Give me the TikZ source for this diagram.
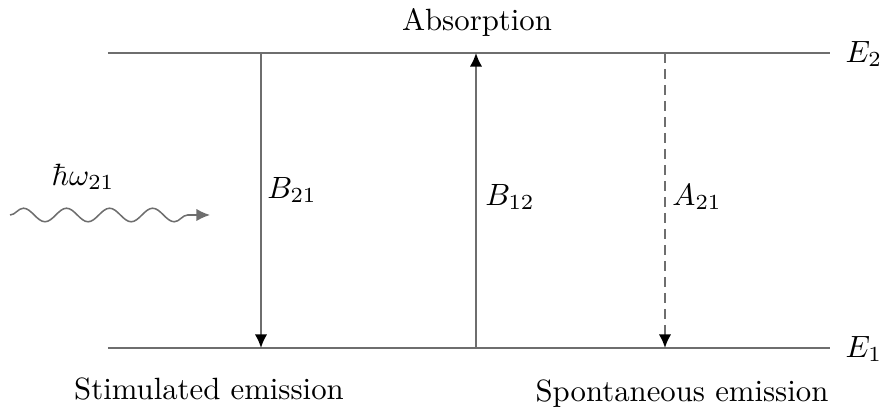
\documentclass[tikz,border=0pt]{standalone}
\usetikzlibrary{arrows.meta,decorations.pathmorphing}
\definecolor{lev}{RGB}{110,110,110}
\begin{document}
\begin{tikzpicture}[x=0.325pt,y=-0.325pt,
  level/.style={draw=lev,line width=0.6pt},
  trans/.style={draw=lev,line width=0.6pt,-{Latex[length=4.4pt,width=4pt,color=black]}},
  lbl/.style={inner sep=0pt}]
\useasboundingbox (0,0) rectangle (887,413);
\coordinate (tl) at (108,53);
\coordinate (tr) at (830,53);
\coordinate (bl) at (108,348);
\coordinate (br) at (830,348);
\draw[level] (tl) -- (tr);
\draw[level] (bl) -- (br);
\coordinate (s1) at (261,53);
\coordinate (s2) at (261,348);
\coordinate (a1) at (476,348);
\coordinate (a2) at (476,53);
\coordinate (p1) at (665,53);
\coordinate (p2) at (665,348);
\draw[trans] (s1) -- (s2);
\draw[trans] (a1) -- (a2);
\draw[trans,dash pattern=on 3.2pt off 2pt] (p1) -- (p2);
\node[lbl] (E2) at (864,54) {$E_2$};
\node[lbl] (E1) at (864,349) {$E_1$};
\node[lbl] (B21) at (292,190) {$B_{21}$};
\node[lbl] (B12) at (510,197) {$B_{12}$};
\node[lbl] (A21) at (697,197) {$A_{21}$};
\node[lbl] (abs) at (477,22) {Absorption};
\node[lbl] (stim) at (209,389) {Stimulated emission};
\node[lbl] (spont) at (682,394) {Spontaneous emission};
\node[lbl] (hw) at (83,177) {$\hbar\omega_{21}$};
\coordinate (w1) at (10,215);
\coordinate (w2) at (210,215);
\draw[draw=lev,line width=0.5pt,decorate,decoration={snake,segment length=14pt,amplitude=2.2pt,post length=3pt},-{Latex[length=4.4pt,width=4pt,color=lev]}] (w1) -- (w2);
\end{tikzpicture}
\end{document}
